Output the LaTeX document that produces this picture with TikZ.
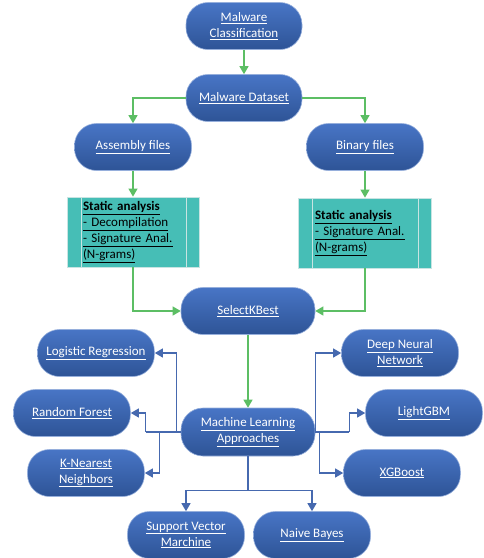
\documentclass[tikz,border=0pt]{standalone}
\usepackage{fontspec}
\setmainfont{Carlito}
\usetikzlibrary{arrows.meta,positioning}
\definecolor{nodetop}{RGB}{72,117,198}
\definecolor{nodebot}{RGB}{46,84,150}
\definecolor{nodeedge}{RGB}{150,175,220}
\definecolor{teal1}{RGB}{70,190,182}
\definecolor{tealedge}{RGB}{200,228,226}
\definecolor{greenline}{RGB}{92,190,100}
\definecolor{blueline}{RGB}{70,105,175}
\newcommand{\myul}[1]{\underline{#1}}
\begin{document}
\begin{tikzpicture}[x=1pt,y=1pt,
  bluenode/.style={rectangle, rounded corners=22pt, minimum width=117pt, minimum height=47pt,
    top color=nodetop, bottom color=nodebot, draw=nodeedge, line width=0.6pt,
    text=white, align=center, inner sep=2pt, font=\fontsize{13}{16}\selectfont},
  staticbox/.style={rectangle, fill=teal1, draw=tealedge, line width=0.8pt,
    minimum height=70pt, text width=100pt, inner xsep=16pt, align=left,
    font=\fontsize{13}{16}\selectfont, text=black,
    path picture={
      \draw[tealedge, line width=0.8pt] ([xshift=14pt]path picture bounding box.north west) -- ([xshift=14pt]path picture bounding box.south west);
      \draw[tealedge, line width=0.8pt] ([xshift=-13pt]path picture bounding box.north east) -- ([xshift=-13pt]path picture bounding box.south east);
    }},
  garrow/.style={draw=greenline, line width=1.2pt, -{Triangle[length=8pt,width=9pt]}},
  barrow/.style={draw=blueline, line width=1.2pt, -{Triangle[length=8pt,width=9pt]}},
  bline/.style={draw=blueline, line width=1.2pt}
]
\useasboundingbox (0,0) rectangle (483,-558);

\node[bluenode, minimum width=116pt] (mc) at (244,-26) {\myul{Malware}\\\myul{Classification}};
\node[bluenode, minimum width=116pt] (md) at (244,-98) {\myul{Malware Dataset}};
\node[bluenode] (asm) at (133,-147) {\myul{Assembly files}};
\node[bluenode] (bin) at (365,-147) {\myul{Binary files}};

\node[staticbox, minimum width=132pt] (st1) at (133,-232) {\textbf{\myul{Static analysis}}\\\myul{- Decompilation}\\\myul{- Signature Anal.}\\\myul{(N-grams)}};
\node[staticbox, minimum width=133pt] (st2) at (365,-233) {\textbf{\myul{Static analysis}}\\\myul{- Signature Anal.}\\\myul{(N-grams)}};

\node[bluenode, minimum width=134pt] (skb) at (248,-311) {\myul{SelectKBest}};
\node[bluenode, minimum width=134pt, minimum height=48pt] (ml) at (248,-432) {\myul{Machine Learning}\\\myul{Approaches}};

\node[bluenode] (lr) at (96,-353) {\myul{Logistic Regression}};
\node[bluenode] (rf) at (72,-413) {\myul{Random Forest}};
\node[bluenode] (knn) at (86,-473) {\myul{K-Nearest}\\\myul{Neighbors}};
\node[bluenode] (dnn) at (400,-353) {\myul{Deep Neural}\\\myul{Network}};
\node[bluenode] (lgb) at (424,-413) {\myul{LightGBM}};
\node[bluenode] (xgb) at (402,-473) {\myul{XGBoost}};
\node[bluenode] (svm) at (186,-535) {\myul{Support Vector}\\\myul{Marchine}};
\node[bluenode] (nb) at (312,-535) {\myul{Naive Bayes}};

% green connectors
\draw[garrow] (mc.south) -- (md.north);
\draw[garrow] (md.west) -| (asm.north);
\draw[garrow] (md.east) -| (bin.north);
\draw[garrow] (asm.south) -- (st1.north);
\draw[garrow] (bin.south) -- (st2.north);
\draw[garrow] (st1.south) |- (skb.west);
\draw[garrow] (st2.south) |- (skb.east);
\draw[garrow] (skb.south) -- (ml.north);

% blue connectors
\draw[bline] (ml.west) -- ++(-35,0);
\draw[barrow] (ml.west) ++(-4,0) |- (lr.east);
\draw[barrow] (ml.west) ++(-21,0) |- (knn.east);
\draw[barrow] (ml.west) ++(-35,0) |- (rf.east);
\draw[barrow] (ml.east) |- (dnn.west);
\draw[bline] (ml.east) -- ++(34,0);
\draw[barrow] (ml.east) ++(4,0) |- (xgb.west);
\draw[barrow] (ml.east) ++(34,0) |- (lgb.west);
\draw[bline] (ml.south) -- ++(0,-34) coordinate (mlb);
\draw[barrow] (mlb) -| (svm.north);
\draw[barrow] (mlb) -| (nb.north);
\end{tikzpicture}
\end{document}
